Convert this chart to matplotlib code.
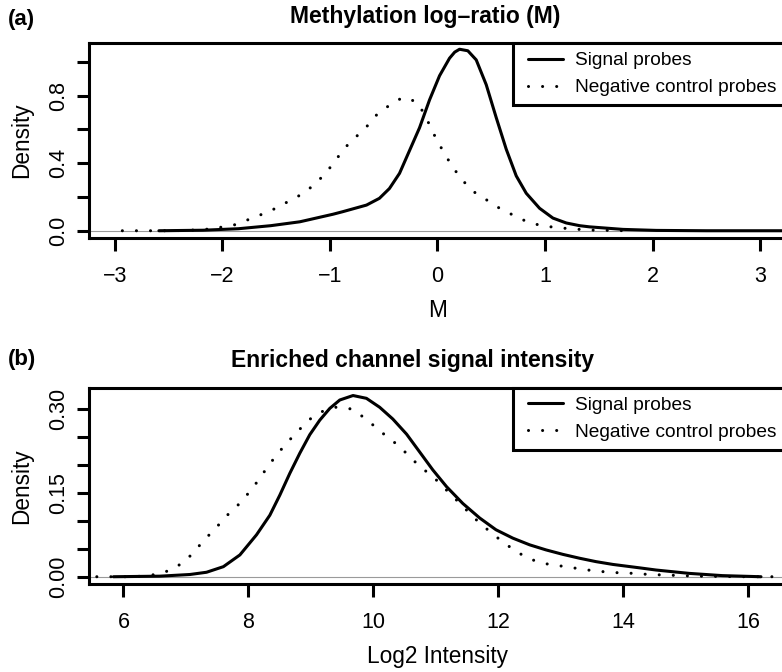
import matplotlib
matplotlib.use("Agg")
import matplotlib.pyplot as plt
from matplotlib.legend_handler import HandlerLine2D

plt.rcParams['font.family'] = ['Liberation Sans', 'DejaVu Sans']

# (a) Methylation log-ratio densities
sig_a_x = [-2.59, -2.18, -1.85, -1.55, -1.28, -1.19, -0.97, -0.88, -0.66, -0.54,
           -0.447, -0.353, -0.26, -0.167, -0.074, 0.019, 0.112, 0.16, 0.205,
           0.282, 0.36, 0.453, 0.546, 0.639, 0.732, 0.825, 0.949, 1.073, 1.197,
           1.321, 1.414, 1.724, 2.034, 2.5, 3.3]
sig_a_y = [0.0, 0.003, 0.012, 0.03, 0.053, 0.066, 0.098, 0.113, 0.152, 0.192,
           0.25, 0.34, 0.475, 0.61, 0.775, 0.918, 1.022, 1.058, 1.075,
           1.066, 1.012, 0.865, 0.67, 0.483, 0.325, 0.222, 0.133, 0.075, 0.046,
           0.03, 0.023, 0.008, 0.002, 0.0, 0.0]

neg_a_x = [-2.93, -2.46, -2.18, -2.04, -1.90, -1.77, -1.634, -1.50, -1.377, -1.247,
           -1.135, -1.035, -0.949, -0.862, -0.756, -0.654, -0.561, -0.447, -0.323,
           -0.198, -0.115, -0.059, 0.009, 0.081, 0.158, 0.245, 0.35, 0.468, 0.592,
           0.722, 0.85, 0.989, 1.135, 1.274, 1.41, 1.8]
neg_a_y = [0.0, 0.0, 0.006, 0.018, 0.032, 0.063, 0.097, 0.134, 0.177, 0.221,
           0.279, 0.344, 0.416, 0.491, 0.557, 0.62, 0.69, 0.743, 0.790,
           0.765, 0.686, 0.603, 0.52, 0.439, 0.362, 0.29, 0.225, 0.178, 0.127,
           0.087, 0.048, 0.028, 0.017, 0.01, 0.004, 0.0]

# (b) Enriched channel log2 intensity densities
sig_b_x = [5.84, 6.58, 7.065, 7.33, 7.60, 7.864, 8.13, 8.343, 8.503, 8.663, 8.823,
           8.982, 9.142, 9.302, 9.462, 9.674, 9.888, 10.10, 10.31, 10.53, 10.74,
           10.95, 11.17, 11.43, 11.70, 11.96, 12.23, 12.50, 12.76, 13.03, 13.30,
           13.56, 13.83, 14.25, 14.52, 15.05, 15.58, 16.2]
sig_b_y = [0.0, 0.001, 0.004, 0.008, 0.018, 0.039, 0.075, 0.11, 0.146, 0.185, 0.221,
           0.254, 0.28, 0.301, 0.316, 0.324, 0.319, 0.303, 0.282, 0.255, 0.223,
           0.191, 0.161, 0.131, 0.105, 0.084, 0.069, 0.057, 0.048, 0.04, 0.033,
           0.027, 0.022, 0.016, 0.012, 0.006, 0.002, 0.0]

neg_b_x = [5.575, 6.08, 6.32, 6.575, 6.80, 7.01, 7.17, 7.34, 7.51, 7.68, 7.86, 8.02,
           8.17, 8.31, 8.46, 8.62, 8.79, 8.96, 9.17, 9.40, 9.65, 9.845, 10.04, 10.22,
           10.42, 10.60, 10.78, 10.97, 11.15, 11.33, 11.50, 11.68, 11.86, 12.06,
           12.26, 12.47, 12.71, 12.95, 13.19, 13.43, 13.68, 13.93, 14.17, 14.41,
           14.68, 15.16, 16.0, 16.8]
neg_b_y = [0.0, 0.0, 0.001, 0.005, 0.014, 0.030, 0.05, 0.071, 0.091, 0.112, 0.131, 0.152,
           0.174, 0.197, 0.219, 0.24, 0.26, 0.280, 0.295, 0.303, 0.30, 0.285, 0.267, 0.25,
           0.233, 0.212, 0.194, 0.177, 0.157, 0.137, 0.118, 0.098, 0.081, 0.063,
           0.047, 0.033, 0.024, 0.02, 0.016, 0.012, 0.009, 0.007, 0.006, 0.004,
           0.003, 0.001, 0.0, 0.0]

W, H = 782, 672
fig = plt.figure(figsize=(W / 100, H / 100), dpi=100)

LW = 2.2
TICK_FS = 15.5
LAB_FS = 16.3
LEG_FS = 13.8
dot_style = (0, (0.01, 4.6))
MINUS = '\u2212'


def fmt(t):
    return str(t).replace('-', MINUS)


def panel(rect, xs, ys, xn, yn, xlim, ylim, xticks, yticks, ylabels, xlabel):
    l, b, w, h = rect
    ax = fig.add_axes([l / W, b / H, w / W, h / H])
    ax.axhline(0, color='#9a9a9a', lw=0.8, zorder=1)
    ax.plot(xs, ys, color='black', lw=LW, solid_joinstyle='round',
            solid_capstyle='round', label='Signal probes', zorder=3)
    ax.plot(xn, yn, color='black', lw=LW, linestyle=dot_style,
            dash_capstyle='round', label='Negative control probes', zorder=2)
    ax.set_xlim(xlim)
    ax.set_ylim(ylim)
    ax.set_xticks(xticks)
    ax.set_xticklabels([fmt(t) for t in xticks])
    ax.set_yticks(yticks)
    ax.set_yticklabels(ylabels, rotation=90, va='center')
    ax.tick_params(axis='both', direction='out', length=9, width=LW,
                   labelsize=TICK_FS)
    ax.tick_params(axis='x', pad=11)
    ax.tick_params(axis='y', pad=5)
    for s in ax.spines.values():
        s.set_linewidth(LW)
    ax.set_ylabel('Density', fontsize=LAB_FS, labelpad=11)
    ax.set_xlabel(xlabel, fontsize=LAB_FS, labelpad=9)
    hmap = {ln: HandlerLine2D(numpoints=2, marker_pad=0.31) for ln in ax.get_lines()}
    leg = ax.legend(loc='upper right', borderaxespad=0, fancybox=False,
                    edgecolor='black', framealpha=1, fontsize=LEG_FS,
                    handlelength=2.45, handletextpad=0.36, borderpad=0.47,
                    labelspacing=0.5, handler_map=hmap)
    leg.get_frame().set_linewidth(LW)
    return ax


panel((89, 434, 697, 195), sig_a_x, sig_a_y, neg_a_x, neg_a_y,
      (-3.24, 3.24), (-0.043, 1.112), [-3, -2, -1, 0, 1, 2, 3],
      [0.0, 0.2, 0.4, 0.6, 0.8, 1.0], ['0.0', '', '0.4', '', '0.8', ''], 'M')

panel((89, 88, 697, 196.3), sig_b_x, sig_b_y, neg_b_x, neg_b_y,
      (5.45, 16.6), (-0.013, 0.338), [6, 8, 10, 12, 14, 16],
      [0.0, 0.05, 0.10, 0.15, 0.20, 0.25, 0.30],
      ['0.00', '', '', '0.15', '', '', '0.30'], 'Log2 Intensity')

fig.text(425 / W, 1 - 17 / H, 'Methylation log\u2013ratio (M)', ha='center',
         va='center', fontsize=16.5, fontweight='bold')
fig.text(413 / W, 1 - 360 / H, 'Enriched channel signal intensity', ha='center',
         va='center', fontsize=16.5, fontweight='bold')
fig.text(8 / W, 1 - 19 / H, '(a)', ha='left', va='center', fontsize=16,
         fontweight='bold')
fig.text(8 / W, 1 - 359 / H, '(b)', ha='left', va='center', fontsize=16,
         fontweight='bold')

fig.savefig('out.png', dpi=100)
